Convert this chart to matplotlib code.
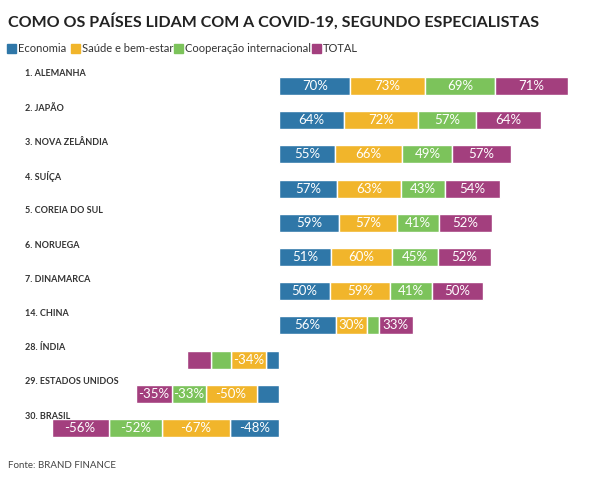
import matplotlib
matplotlib.use("Agg")
import matplotlib.pyplot as plt
import numpy as np

plt.rcParams["font.family"] = ["Lato", "DejaVu Sans"]

countries = ["1. ALEMANHA", "2. JAPÃO", "3. NOVA ZELÂNDIA", "4. SUÍÇA", "5. COREIA DO SUL",
             "6. NORUEGA", "7. DINAMARCA", "14. CHINA", "28. ÍNDIA", "29. ESTADOS UNIDOS",
             "30. BRASIL"]
economia = [70, 64, 55, 57, 59, 51, 50, 56, -13, -22, -48]
saude = [73, 72, 66, 63, 57, 60, 59, 30, -34, -50, -67]
cooperacao = [69, 57, 49, 43, 41, 45, 41, 12, -20, -33, -52]
total = [71, 64, 57, 54, 52, 52, 50, 33, -23, -35, -56]

series = ["Economia", "Saúde e bem-estar", "Cooperação internacional", "TOTAL"]
colors = ["#2f77a8", "#f1b52b", "#7cc35b", "#a33f7e"]

W, H = 591, 480
fig = plt.figure(figsize=(W / 100, H / 100), dpi=100)
ax = fig.add_axes([0, 0, 1, 1])
px = 1.02          # pixels per percentage point
x0 = 279           # zero line in pixels
row0, row_step = 86, 34.2
ax.set_xlim(-x0 / px, (W - x0) / px)
ax.set_ylim((H - row0) / row_step, -row0 / row_step)
ax.axis("off")

y = np.arange(len(countries))
left = np.zeros(len(countries))
for vals, color in zip([economia, saude, cooperacao, total], colors):
    vals = np.array(vals, dtype=float)
    ax.barh(y, vals, left=left, height=0.53, color=color,
            edgecolor="white", linewidth=1.0)
    for yi, l, v in zip(y, left, vals):
        if abs(v) >= 30:
            ax.text(l + v / 2, yi, f"{int(v)}%", ha="center", va="center",
                    color="white", fontsize=9.5)
    left = left + vals

for yi, name in zip(y, countries):
    ax.text(25 / px - x0 / px, yi - 12 / row_step, name, ha="left", va="center",
            fontsize=6.5, fontweight="bold", color="#333333")

fig.text(8 / W, 1 - 21 / H, "COMO OS PAÍSES LIDAM COM A COVID-19, SEGUNDO ESPECIALISTAS",
         ha="left", va="center", fontsize=11.5, fontweight="bold", color="#222222")

leg_x = [7, 71, 174, 312]
for lx, name, color in zip(leg_x, series, colors):
    fig.patches.append(plt.Rectangle((lx / W, 1 - 53 / H), 9 / W, 9 / H,
                                     transform=fig.transFigure, color=color))
    fig.text((lx + 11) / W, 1 - 48 / H, name, ha="left", va="center",
             fontsize=8, color="#333333")

fig.text(8 / W, 1 - 466 / H, "Fonte: BRAND FINANCE", ha="left", va="center",
         fontsize=7, color="#444444")

fig.savefig("out.png", dpi=100)
